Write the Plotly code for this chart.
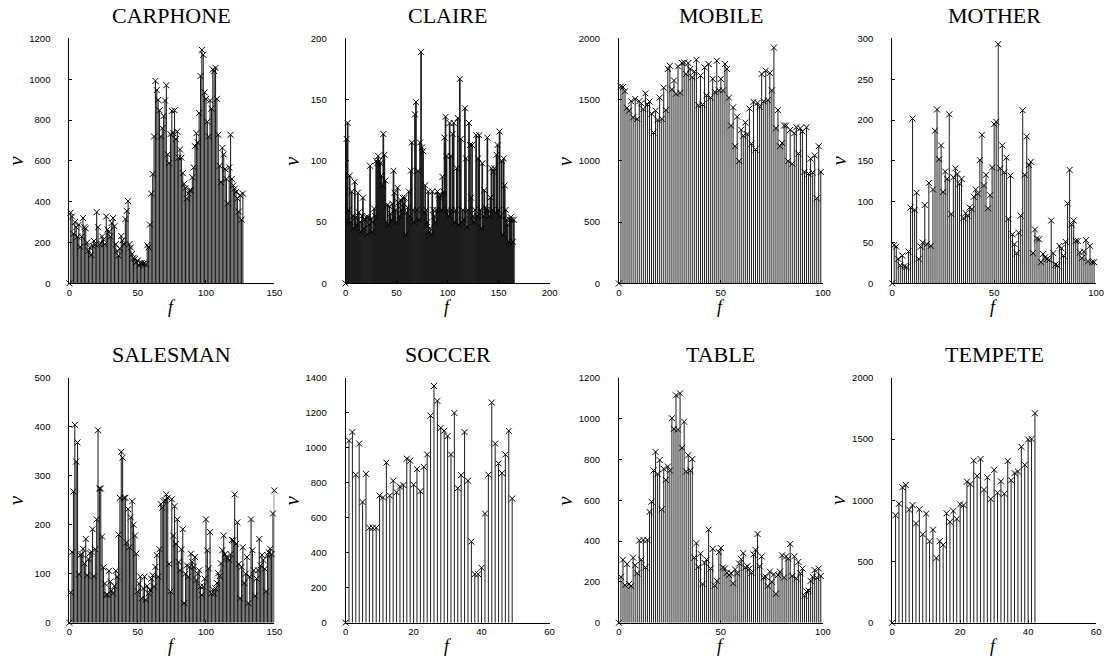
import plotly.graph_objects as go

# ---- data: frame index f (1..N) and value nu for each sequence ----
carphone = [347, 328, 243, 300, 275, 229, 288, 179, 230, 320, 275, 269, 200, 160, 176, 139, 184, 208, 190, 349,
            275, 192, 197, 230, 216, 192, 328, 264, 253, 230, 296, 320, 280, 192, 160, 136, 170, 232, 211, 192,
            315, 355, 403, 192, 176, 144, 125, 120, 104, 112, 88, 100, 99, 95, 99, 93, 187, 176, 288, 440,
            536, 720, 992, 947, 899, 848, 720, 760, 820, 896, 971, 632, 589, 731, 845, 736, 848, 707, 744, 616,
            656, 616, 540, 488, 467, 416, 440, 456, 456, 520, 568, 672, 736, 691, 835, 1016, 1144, 1120, 936, 904,
            792, 720, 896, 856, 1048, 1040, 1056, 904, 728, 576, 496, 664, 632, 560, 512, 392, 568, 728, 512, 480,
            464, 448, 416, 352, 432, 312, 440]

claire = [118, 131, 60, 88, 50, 75, 55, 45, 83, 54, 48, 74, 58, 50, 42, 55, 70, 45, 52, 54,
          40, 54, 48, 96, 53, 42, 50, 61, 55, 100, 98, 104, 100, 98, 88, 80, 122, 105, 84, 50,
          64, 48, 63, 57, 52, 65, 92, 74, 60, 50, 78, 66, 55, 68, 60, 70, 65, 70, 40, 58,
          62, 75, 55, 92, 115, 60, 50, 138, 148, 60, 92, 52, 115, 189, 111, 108, 58, 80, 60, 50,
          75, 42, 45, 40, 75, 60, 55, 50, 60, 75, 72, 70, 72, 60, 87, 75, 119, 136, 104, 60,
          55, 131, 104, 60, 122, 131, 50, 60, 94, 135, 48, 167, 118, 50, 60, 52, 143, 102, 46, 60,
          131, 113, 70, 113, 55, 50, 60, 121, 55, 102, 121, 60, 45, 98, 55, 76, 62, 60, 119, 60,
          55, 70, 94, 60, 91, 94, 58, 105, 113, 60, 124, 55, 100, 40, 102, 80, 60, 52, 48, 34,
          52, 54, 52, 34, 52]

mobile = [1608, 1603, 1568, 1434, 1410, 1487, 1356, 1506, 1343, 1487, 1471, 1423, 1552, 1461, 1485, 1385, 1232, 1410, 1334, 1517,
          1343, 1598, 1415, 1751, 1777, 1584, 1657, 1549, 1772, 1557, 1799, 1804, 1710, 1799, 1751, 1684, 1729, 1826, 1455, 1697,
          1461, 1764, 1536, 1791, 1517, 1670, 1563, 1818, 1576, 1670, 1576, 1791, 1751, 1517, 1289, 1437, 1120, 1361, 999, 1254,
          1206, 1313, 1219, 1428, 1141, 1482, 1093, 1474, 1442, 1710, 1487, 1737, 1496, 1718, 1576, 1925, 1267, 1415, 1120, 1146,
          1289, 1289, 999, 1254, 977, 1227, 1275, 1060, 1267, 1240, 910, 1275, 897, 1018, 905, 1044, 695, 1120, 910]

mother = [47, 45, 30, 22, 34, 21, 20, 39, 93, 202, 90, 111, 30, 45, 50, 96, 48, 123, 46, 115,
          187, 213, 152, 169, 112, 137, 128, 207, 85, 130, 141, 134, 122, 128, 80, 86, 83, 93, 91, 106,
          115, 110, 151, 182, 120, 133, 92, 108, 142, 195, 198, 293, 141, 169, 136, 154, 79, 132, 60, 48,
          37, 62, 83, 212, 133, 180, 145, 149, 37, 66, 55, 54, 26, 36, 32, 30, 29, 77, 37, 23,
          22, 46, 43, 34, 51, 98, 139, 72, 77, 52, 52, 38, 31, 39, 53, 27, 46, 26, 26]

salesman = [62, 144, 268, 404, 329, 368, 99, 138, 140, 151, 121, 171, 97, 130, 142, 145, 191, 95, 150, 211,
            393, 274, 274, 176, 113, 80, 57, 57, 106, 84, 66, 60, 75, 106, 94, 180, 255, 349, 337, 255,
            255, 164, 232, 154, 215, 248, 200, 178, 141, 64, 80, 94, 50, 70, 94, 47, 75, 60, 67, 90,
            97, 74, 114, 138, 94, 150, 242, 235, 248, 250, 262, 255, 120, 64, 252, 178, 238, 161, 211, 124,
            107, 150, 191, 40, 100, 117, 94, 114, 141, 124, 114, 134, 87, 100, 107, 74, 57, 74, 90, 211,
            148, 111, 185, 60, 68, 60, 70, 81, 101, 95, 121, 148, 178, 140, 134, 131, 128, 140, 169, 168,
            262, 161, 205, 120, 50, 114, 154, 81, 100, 134, 40, 94, 211, 148, 107, 55, 90, 107, 171, 117,
            138, 128, 110, 64, 138, 144, 151, 140, 223, 270]

soccer = [1041, 1090, 846, 1024, 690, 851, 543, 543, 543, 727, 716, 915, 727, 812, 746, 778, 787, 938, 926, 789,
          878, 752, 891, 962, 1184, 1353, 1268, 1114, 1097, 1067, 962, 1199, 769, 844, 1090, 812, 464, 278, 278, 314,
          624, 846, 1259, 1024, 911, 855, 962, 1097, 710]

table = [225, 309, 184, 287, 190, 180, 319, 282, 242, 403, 309, 406, 271, 406, 543, 593, 746, 837, 729, 797,
         556, 754, 700, 765, 746, 1002, 950, 1114, 947, 1124, 857, 985, 741, 821, 746, 802, 319, 390, 274, 338,
         190, 293, 309, 456, 266, 362, 182, 205, 346, 366, 271, 266, 245, 234, 242, 193, 261, 242, 290, 311,
         341, 271, 277, 266, 245, 335, 357, 435, 277, 325, 222, 225, 180, 250, 201, 237, 142, 234, 250, 330,
         222, 325, 314, 386, 229, 325, 217, 298, 242, 266, 132, 153, 158, 205, 225, 258, 221, 266, 229]

tempete = [878, 972, 1106, 1125, 924, 961, 811, 926, 722, 891, 666, 760, 529, 666, 636, 894, 824, 913, 848, 967,
           961, 1152, 1133, 1324, 1200, 1337, 1087, 1187, 1010, 1249, 1061, 1155, 1053, 1321, 1163, 1222, 1235, 1437, 1289, 1496,
           1501, 1710]

titles = ["CARPHONE", "CLAIRE", "MOBILE", "MOTHER", "SALESMAN", "SOCCER", "TABLE", "TEMPETE"]
series = [carphone, claire, mobile, mother, salesman, soccer, table, tempete]
x_max = [150, 200, 100, 100, 150, 60, 100, 60]
x_step = [50, 50, 50, 50, 50, 20, 50, 20]
y_max = [1200, 200, 2000, 300, 500, 1400, 1200, 2000]
y_step = [200, 50, 500, 50, 100, 200, 200, 500]

# ---- layout geometry (pixels) and per-panel stem widths ----
W, H = 1117, 672
cols = [(67, 274), (346, 552), (622, 828), (898, 1104)]
rows = [(33, 282), (378, 627)]
stem_width = [1.05, 1.7, 1.0, 1.0, 1.05, 1.0, 1.0, 1.0]

TICK_FONT = dict(family="Liberation Sans, Arial, sans-serif", size=9.5, color="black")
SERIF = "Liberation Serif, Times New Roman, serif"

fig = go.Figure()
annotations = []

for i, (name, vals) in enumerate(zip(titles, series)):
    r, c = divmod(i, 4)
    x0, x1 = cols[c]
    ytop, ybot = rows[r]
    ax = "" if i == 0 else str(i + 1)

    f = list(range(0, len(vals) + 1))
    v = [0] + list(vals)

    # stems: one segment per sample from the baseline to its value
    sx, sy = [], []
    for fi, vi in zip(f, v):
        sx += [fi, fi, None]
        sy += [0, vi, None]

    fig.add_trace(go.Scatter(x=sx, y=sy, mode="lines", xaxis="x" + ax, yaxis="y" + ax,
                             line=dict(color="#1c1c1c", width=stem_width[i]), hoverinfo="skip",
                             showlegend=False))
    fig.add_trace(go.Scatter(x=f, y=v, mode="markers", xaxis="x" + ax, yaxis="y" + ax,
                             marker=dict(symbol="x-thin", size=6,
                                         line=dict(color="black", width=1)),
                             cliponaxis=False, showlegend=False))

    common = dict(showgrid=False, zeroline=False, showline=True, linecolor="black",
                  linewidth=1, ticks="inside", ticklen=3, tickcolor="black",
                  tickfont=TICK_FONT, mirror=False)
    fig.update_layout({
        "xaxis" + ax: dict(common, domain=[x0 / W, x1 / W], range=[0, x_max[i]],
                           tickmode="linear", tick0=0, dtick=x_step[i],
                           anchor="y" + ax, ticklabelstandoff=0),
        "yaxis" + ax: dict(common, domain=[1 - ybot / H, 1 - ytop / H], range=[0, y_max[i]],
                           tickmode="linear", tick0=0, dtick=y_step[i],
                           anchor="x" + ax, ticklabelstandoff=16),
    })

    # panel title, axis labels
    annotations.append(dict(text=name, x=(x0 + x1) / 2 / W, y=1 - (ytop - 9) / H,
                            xref="paper", yref="paper", xanchor="center", yanchor="bottom",
                            showarrow=False, font=dict(family=SERIF, size=22, color="black")))
    annotations.append(dict(text="<i>f</i>", x=(x0 + x1) / 2 / W, y=1 - (ybot + 24) / H,
                            xref="paper", yref="paper", xanchor="center", yanchor="middle",
                            showarrow=False, font=dict(family=SERIF, size=18, color="black")))
    annotations.append(dict(text="<i>ν</i>", x=(x0 - 54) / W, y=1 - (ytop + ybot) / 2 / H,
                            xref="paper", yref="paper", xanchor="center", yanchor="middle",
                            textangle=-90, showarrow=False,
                            font=dict(family=SERIF, size=21, color="black")))

fig.update_layout(width=W, height=H, margin=dict(l=0, r=0, t=0, b=0),
                  paper_bgcolor="white", plot_bgcolor="white",
                  annotations=annotations, showlegend=False)

fig.write_html("out.html")
